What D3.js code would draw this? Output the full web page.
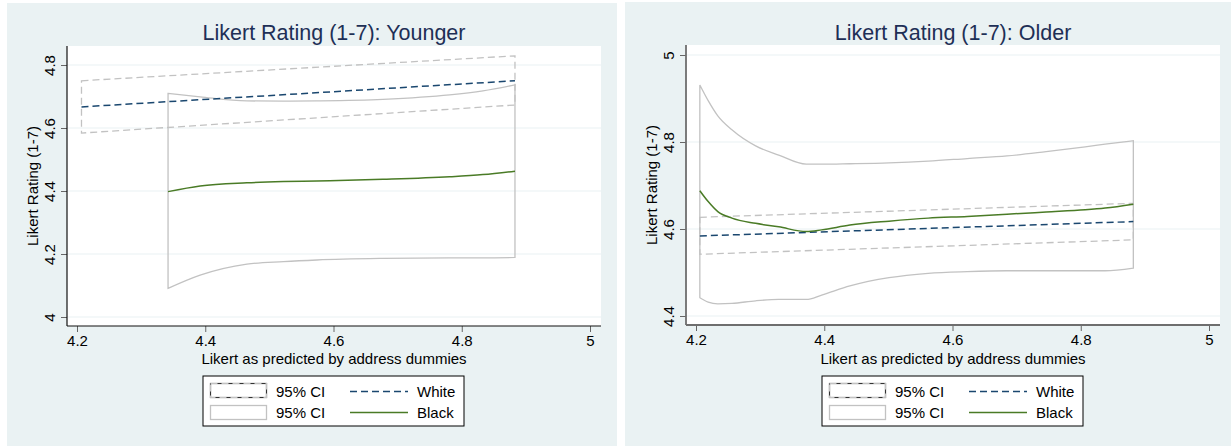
<!DOCTYPE html>
<html>
<head>
<meta charset="utf-8">
<script src="https://cdn.jsdelivr.net/npm/d3@7"></script>
<style>
  html, body { margin: 0; padding: 0; background: #ffffff; }
  svg { display: block; font-family: "Liberation Sans", Arial, sans-serif; }
</style>
</head>
<body>
<svg id="chart" width="1231" height="446"></svg>
<script>
// Shared axis ticks
const xTicks = [4.2, 4.4, 4.6, 4.8, 5];
const youngYTicks = [4, 4.2, 4.4, 4.6, 4.8];
const olderYTicks = [4.4, 4.6, 4.8, 5];

// Younger: White fit and 95% CI
const youngWhiteX   = [4.207, 4.883];
const youngWhiteFit = [4.667, 4.750];
const youngWhiteLo  = [4.584, 4.673];
const youngWhiteHi  = [4.750, 4.829];

// Younger: Black fit and 95% CI
const youngBlackX   = [4.342, 4.392, 4.465, 4.522, 4.574, 4.677, 4.781, 4.833, 4.883];
const youngBlackFit = [4.398, 4.416, 4.426, 4.430, 4.432, 4.437, 4.445, 4.452, 4.463];
const youngBlackHi  = [4.710, 4.699, 4.686, 4.685, 4.686, 4.691, 4.705, 4.718, 4.737];
const youngBlackLo  = [4.091, 4.133, 4.168, 4.176, 4.181, 4.186, 4.188, 4.188, 4.189];

// Older: White fit and 95% CI
const olderWhiteX   = [4.206, 4.882];
const olderWhiteFit = [4.584, 4.617];
const olderWhiteLo  = [4.542, 4.575];
const olderWhiteHi  = [4.627, 4.659];

// Older: Black fit and 95% CI
const olderBlackX   = [4.206, 4.219, 4.234, 4.256, 4.293, 4.329, 4.372, 4.396, 4.440, 4.501, 4.562, 4.623, 4.685, 4.746, 4.807, 4.838, 4.882];
const olderBlackFit = [4.688, 4.663, 4.640, 4.625, 4.613, 4.605, 4.594, 4.598, 4.609, 4.618, 4.625, 4.629, 4.634, 4.639, 4.644, 4.648, 4.657];
const olderBlackHi  = [4.931, 4.895, 4.860, 4.828, 4.791, 4.770, 4.749, 4.749, 4.750, 4.752, 4.756, 4.762, 4.768, 4.778, 4.789, 4.795, 4.803];
const olderBlackLo  = [4.442, 4.432, 4.428, 4.429, 4.435, 4.438, 4.438, 4.448, 4.469, 4.488, 4.498, 4.502, 4.504, 4.504, 4.504, 4.504, 4.510];

const legendLabels = ["95% CI", "95% CI", "White", "Black"];

const svg = d3.select("#chart");

const COL = {
  bg: "#eaf2f3",
  grid: "#eaf2f3",
  title: "#1e2f56",
  white: "#1a476f",
  black: "#4a7b26",
  ci: "#c2c2c2"
};

function zipRows(xs, ys) { return xs.map((x, i) => ({ x, y: ys[i] })); }

function drawPanel(cfg) {
  const g = svg.append("g");
  // panel background
  g.append("rect").attr("x", cfg.bgX).attr("y", cfg.bgY)
    .attr("width", cfg.bgW).attr("height", 446 - cfg.bgY).attr("fill", COL.bg);

  const left = cfg.left, right = cfg.left + 534, top = cfg.top, bottom = cfg.top + 280;
  g.append("rect").attr("x", left).attr("y", top)
    .attr("width", right - left).attr("height", bottom - top).attr("fill", "#ffffff");

  const x = d3.scaleLinear().domain([4.2, 5]).range([left + 10, left + 523]);
  const y = d3.scaleLinear().domain(cfg.yDomain).range(cfg.yRange);

  // gridlines
  g.append("g").selectAll("line").data(cfg.yTicks).join("line")
    .attr("x1", left).attr("x2", right)
    .attr("y1", d => y(d)).attr("y2", d => y(d))
    .attr("stroke", COL.grid).attr("stroke-width", 1.2);

  const line = d3.line().x(d => x(d.x)).y(d => y(d.y)).curve(d3.curveMonotoneX);

  // CI outlines: closed polygon (upper forward, lower backward)
  function ciPath(xs, lo, hi, dashed) {
    const up = zipRows(xs, hi);
    const dn = zipRows(xs, lo).reverse();
    const upperPath = line(up);
    const lowerPath = line(dn);
    const d = upperPath + "L" + lowerPath.slice(1) + "Z";
    g.append("path").attr("d", d)
      .attr("fill", "none").attr("stroke", COL.ci)
      .attr("stroke-width", 1.3)
      .attr("stroke-dasharray", dashed ? "7,4" : null);
  }

  ciPath(cfg.wX, cfg.wLo, cfg.wHi, true);
  ciPath(cfg.bX, cfg.bLo, cfg.bHi, false);

  g.append("path").attr("d", line(zipRows(cfg.wX, cfg.wFit)))
    .attr("fill", "none").attr("stroke", COL.white).attr("stroke-width", 1.5)
    .attr("stroke-dasharray", "7,4");
  g.append("path").attr("d", line(zipRows(cfg.bX, cfg.bFit)))
    .attr("fill", "none").attr("stroke", COL.black).attr("stroke-width", 1.5);

  // axes
  const xAxis = d3.axisBottom(x).tickValues(xTicks).tickSize(6).tickPadding(3)
    .tickFormat(d3.format("~g"));
  const gx = g.append("g").attr("transform", `translate(0,${bottom})`).call(xAxis);
  gx.select(".domain").remove();
  gx.selectAll(".tick line").attr("stroke", "#666");
  gx.selectAll(".tick text").attr("font-size", 15).attr("fill", "#000")
    .attr("font-family", "Liberation Sans, Arial, sans-serif");

  const yAxis = d3.axisLeft(y).tickValues(cfg.yTicks).tickSize(6).tickPadding(3)
    .tickFormat(d3.format("~g"));
  const gy = g.append("g").attr("transform", `translate(${left},0)`).call(yAxis);
  gy.select(".domain").remove();
  gy.selectAll(".tick line").attr("stroke", "#666");
  gy.selectAll(".tick text")
    .attr("font-size", 15).attr("fill", "#000")
    .attr("font-family", "Liberation Sans, Arial, sans-serif")
    .attr("x", null).attr("dy", null)
    .attr("text-anchor", "middle")
    .attr("transform", "translate(-12,0) rotate(-90)");

  // axis lines
  g.append("line").attr("x1", left).attr("x2", left).attr("y1", top).attr("y2", bottom)
    .attr("stroke", cfg.axisColor).attr("stroke-width", cfg.axisWidth);
  g.append("line").attr("x1", left).attr("x2", right).attr("y1", bottom).attr("y2", bottom)
    .attr("stroke", cfg.axisColor).attr("stroke-width", cfg.axisWidth);

  // titles
  const cx = (left + right) / 2;
  g.append("text").attr("x", cx).attr("y", 40).attr("text-anchor", "middle")
    .attr("font-size", 21.5).attr("fill", COL.title).text(cfg.title);
  g.append("text").attr("x", cx).attr("y", 364).attr("text-anchor", "middle")
    .attr("font-size", 15).attr("fill", "#000").text("Likert as predicted by address dummies");
  g.append("text").attr("transform", `translate(${left - 29},${(top + bottom) / 2}) rotate(-90)`)
    .attr("text-anchor", "middle").attr("font-size", 15).attr("fill", "#000")
    .text("Likert Rating (1-7)");

  // legend
  const lx = cfg.legendX, ly = 376;
  const lg = g.append("g");
  lg.append("rect").attr("x", lx).attr("y", ly).attr("width", 261).attr("height", 50)
    .attr("fill", "#fff").attr("stroke", "#000").attr("stroke-width", 1);
  lg.append("rect").attr("x", lx + 7.5).attr("y", ly + 7.5).attr("width", 56).attr("height", 14)
    .attr("fill", "#fff").attr("stroke", "#333").attr("stroke-width", 1.2);
  lg.append("rect").attr("x", lx + 7.5).attr("y", ly + 7.5).attr("width", 56).attr("height", 14)
    .attr("fill", "none").attr("stroke", COL.ci).attr("stroke-width", 1.2)
    .attr("stroke-dasharray", "7,4");
  lg.append("rect").attr("x", lx + 7.5).attr("y", ly + 29.5).attr("width", 56).attr("height", 14)
    .attr("fill", "#fff").attr("stroke", COL.ci).attr("stroke-width", 1.3);
  lg.append("line").attr("x1", lx + 147).attr("x2", lx + 205).attr("y1", ly + 15.5).attr("y2", ly + 15.5)
    .attr("stroke", COL.white).attr("stroke-width", 1.5).attr("stroke-dasharray", "7,4");
  lg.append("line").attr("x1", lx + 147).attr("x2", lx + 205).attr("y1", ly + 36.5).attr("y2", ly + 36.5)
    .attr("stroke", COL.black).attr("stroke-width", 1.5);
  const lt = [[lx + 73, ly + 21, legendLabels[0]], [lx + 73, ly + 42, legendLabels[1]],
              [lx + 214, ly + 21, legendLabels[2]], [lx + 214, ly + 42, legendLabels[3]]];
  lg.selectAll("text").data(lt).join("text")
    .attr("x", d => d[0]).attr("y", d => d[1]).attr("font-size", 15).attr("fill", "#000")
    .text(d => d[2]);
}

drawPanel({
  title: "Likert Rating (1-7): Younger",
  bgX: 7, bgY: 3, bgW: 610,
  left: 67, top: 46,
  yDomain: [4, 4.8], yRange: [317, 65], yTicks: youngYTicks,
  wX: youngWhiteX, wFit: youngWhiteFit, wLo: youngWhiteLo, wHi: youngWhiteHi,
  bX: youngBlackX, bFit: youngBlackFit, bLo: youngBlackLo, bHi: youngBlackHi,
  axisColor: "#111", axisWidth: 1.2,
  legendX: 203
});

drawPanel({
  title: "Likert Rating (1-7): Older",
  bgX: 625, bgY: 2, bgW: 606,
  left: 686, top: 45,
  yDomain: [4.4, 5], yRange: [316, 55], yTicks: olderYTicks,
  wX: olderWhiteX, wFit: olderWhiteFit, wLo: olderWhiteLo, wHi: olderWhiteHi,
  bX: olderBlackX, bFit: olderBlackFit, bLo: olderBlackLo, bHi: olderBlackHi,
  axisColor: "#6e6e6e", axisWidth: 1.8,
  legendX: 822
});
</script>
</body>
</html>
